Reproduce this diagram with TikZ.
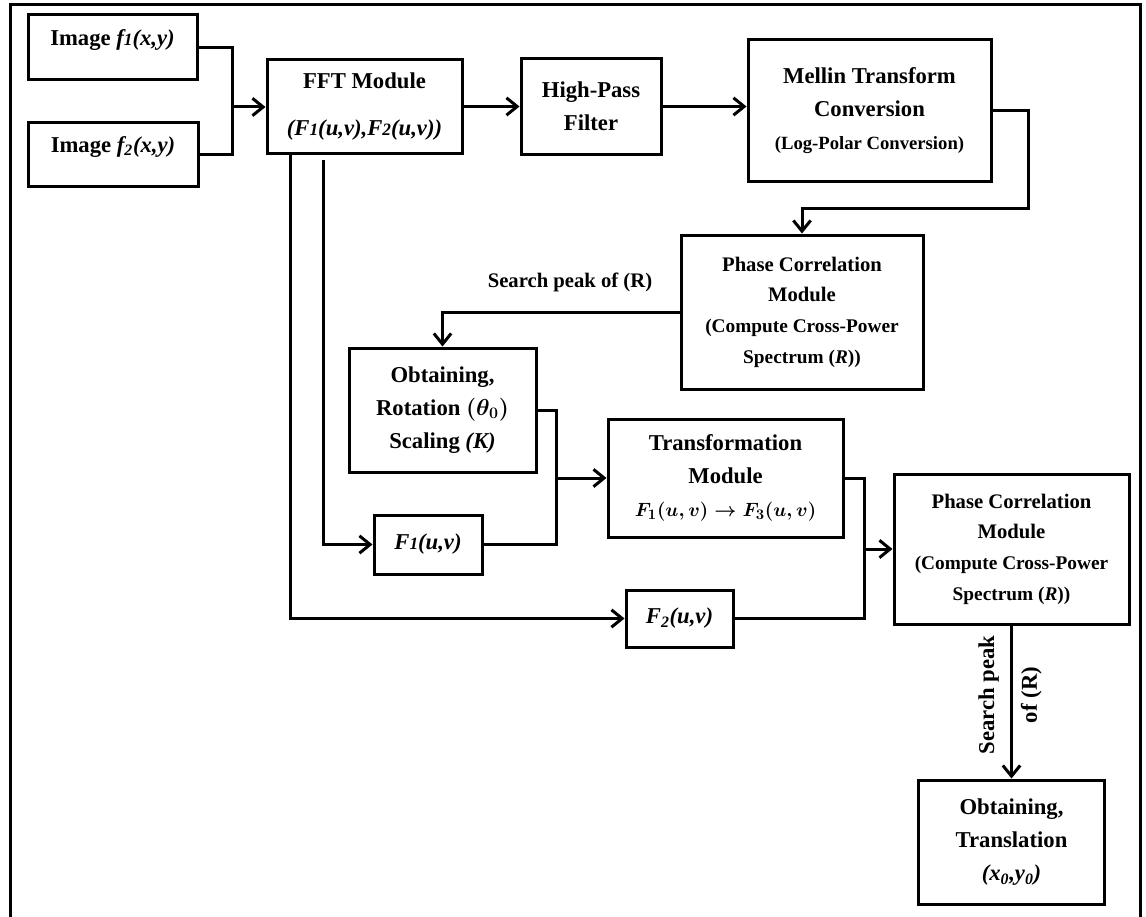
\documentclass[tikz,border=0pt]{standalone}
\usepackage{fontspec}
\setmainfont{Liberation Serif}
\usetikzlibrary{arrows.meta}

% small index set on the baseline
\newcommand{\lowidx}[1]{{\fontsize{13}{13}\selectfont #1}}

\begin{document}
\begin{tikzpicture}[
  x=0.75pt,
  y=-0.75pt,
  line join=miter,
  boxsize/.style 2 args={
    minimum width=#1*0.75pt,
    minimum height=#2*0.75pt
  },
  block/.style={
    draw=black,
    line width=2.25pt,
    align=center,
    inner sep=2pt,
    font=\bfseries\boldmath\fontsize{17}{25}\selectfont
  },
  pcblock/.style={
    block,
    font=\bfseries\boldmath\fontsize{15.5}{23}\selectfont
  },
  link/.style={
    draw=black,
    line width=2.25pt
  },
  arrow/.style={
    link,
    -{Straight Barb[length=8pt,width=13pt]}
  },
  note/.style={
    font=\bfseries\fontsize{15.5}{20}\selectfont,
    align=center
  }
]

\useasboundingbox (0,0) rectangle (1146,917);

% outer frame, open at the bottom
\draw[line width=2.25pt] (10,917) |- (1140,5) -- (1140,917);

% =========================================================
% Upper row: input images, FFT, filter, Mellin
% =========================================================

\node[block, boxsize={169}{65}, text depth=14.5pt] (imgA) at (112.5,47.5)
{Image \textit{f\lowidx{1}(x,y)}};

\node[block, boxsize={170}{64}, text depth=14.5pt] (imgB) at (113,154)
{Image \textit{f\textsubscript{2}(x,y)}};

\node[block, boxsize={195}{94}] (fft) at (364.5,106.5)
{FFT Module\\[10pt]\textit{(F\lowidx{1}(u,v),F\lowidx{2}(u,v))}};

\node[block, boxsize={140}{96}] (hpf) at (591,106.5)
{High-Pass\\Filter};

\node[block, boxsize={243}{141}] (mellin) at (869.5,110.5)
{Mellin Transform\\Conversion\\{\fontsize{14}{20}\selectfont (Log-Polar Conversion)}};

\coordinate (jin) at (232,107);

\draw[link] (imgA.east) -| (jin);
\draw[link] (imgB.east) -| (jin);
\draw[arrow] (jin) -- (jin -| fft.west);
\draw[arrow] (fft.east) -- (hpf.west);
\draw[arrow] (hpf.east) -- (hpf.east -| mellin.west);

% =========================================================
% Rotation and scale
% =========================================================

\node[pcblock, boxsize={242}{154}] (pcA) at (802,312)
{Phase Correlation\\Module\\
{\fontsize{14.5}{23}\selectfont (Compute Cross-Power}\\
{\fontsize{14.5}{23}\selectfont Spectrum (\textit{R}))}};

\node[note] (peakA) at (570,282)
{Search peak of (R)};

\node[block, boxsize={187}{124}] (rot) at (442.5,410)
{Obtaining,\\Rotation $(\theta_0)$\\Scaling \textit{(K)}};

\node[block, boxsize={108}{59}] (fa) at (428,544.5)
{\textit{F\lowidx{1}(u,v)}};

\node[block, boxsize={235}{118}] (trans) at (725.5,478)
{Transformation\\Module\\{\fontsize{15}{22}\selectfont $F_1(u,v) \rightarrow F_3(u,v)$}};

\node[block, boxsize={107}{57}] (fb) at (679.5,618.5)
{\textit{F\textsubscript{2}(u,v)}};

\draw[arrow] (mellin.east) -| (1028,208) -| (pcA.north);
\draw[arrow] (pcA.west) -| (rot.north);

\coordinate (jtr) at (556,478);

\draw[link] (rot.east) -| (jtr);
\draw[link] (fa.east) -| (jtr);
\draw[arrow] (jtr) -- (trans.west);

% spectra taken straight from the FFT block
\draw[arrow] ([xshift=18.75pt]fft.south west) |- (fb.west);
\draw[arrow] ([xshift=43.5pt,yshift=-3.75pt]fft.south west) |- (fa.west);

% =========================================================
% Translation
% =========================================================

\node[pcblock, boxsize={235}{150}] (pcB) at (1011.5,549)
{Phase Correlation\\Module\\
{\fontsize{14.5}{23}\selectfont (Compute Cross-Power}\\
{\fontsize{14.5}{23}\selectfont Spectrum (\textit{R}))}};

\node[block, boxsize={186}{124}] (trl) at (1011.5,842)
{Obtaining,\\Translation\\\textit{(x\textsubscript{0},y\textsubscript{0})}};

\coordinate (jpc) at (864,549);

\draw[link] (trans.east) -| (jpc);
\draw[link] (fb.east) -| (jpc);
\draw[arrow] (jpc) -- (pcB.west);
\draw[arrow] (pcB.south) -- (trl.north);

\node[note, rotate=90, font=\bfseries\fontsize{17}{32}\selectfont] (peakB) at (1010,695)
{Search peak\\of (R)};

\end{tikzpicture}
\end{document}
